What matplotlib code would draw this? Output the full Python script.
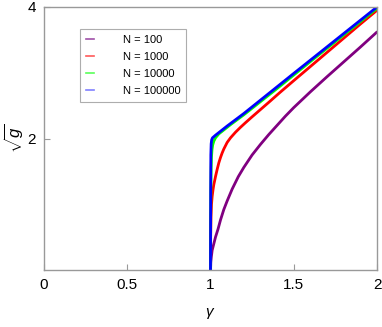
import matplotlib
matplotlib.use("Agg")
import matplotlib.pyplot as plt
from matplotlib.lines import Line2D

plt.rcParams['font.family'] = ['Liberation Sans', 'DejaVu Sans']
plt.rcParams['mathtext.fontset'] = 'custom'
plt.rcParams['mathtext.rm'] = 'Liberation Sans'
plt.rcParams['mathtext.it'] = 'Liberation Sans:italic'

labels = ["N = 100", "N = 1000", "N = 10000", "N = 100000"]
colors = ["#800080", "#ff0000", "#00ff00", "#0000ff"]
legend_colors = ["#a050a8", "#ff5a5a", "#5aff5a", "#8080ff"]

g100_x = [1.0, 1.002, 1.005, 1.01, 1.02, 1.03, 1.045, 1.06, 1.08, 1.1, 1.13, 1.167, 1.2,
          1.25, 1.3, 1.35, 1.4, 1.45, 1.5, 1.6, 1.7, 1.8, 1.9, 2.0]
g100_y = [0.0, 0.12, 0.2, 0.3, 0.4, 0.5, 0.62, 0.76, 0.92, 1.05, 1.23, 1.42, 1.56,
          1.75, 1.91, 2.06, 2.2, 2.34, 2.47, 2.71, 2.94, 3.165, 3.39, 3.62]

g1000_x = [1.0, 1.001, 1.003, 1.006, 1.01, 1.015, 1.02, 1.03, 1.04, 1.05, 1.06, 1.07, 1.08,
           1.09, 1.1, 1.12, 1.15, 1.18, 1.21, 1.25, 1.3, 1.35, 1.417, 1.5, 1.6, 1.7, 1.8, 1.9, 2.0]
g1000_y = [0.0, 0.5, 0.8, 1.0, 1.12, 1.22, 1.3, 1.42, 1.53, 1.63, 1.71, 1.78, 1.84,
           1.89, 1.94, 2.01, 2.095, 2.17, 2.24, 2.33, 2.44, 2.55, 2.7, 2.88, 3.095, 3.31, 3.525, 3.74, 3.95]

g10000_x = [1.0, 1.001, 1.002, 1.004, 1.006, 1.009, 1.013, 1.02, 1.03, 1.05, 1.08, 1.12,
            1.2, 1.3, 1.4, 1.6, 1.8, 2.0]
g10000_y = [0.0, 0.8, 1.2, 1.55, 1.72, 1.83, 1.9, 1.96, 2.01, 2.07, 2.13, 2.21,
            2.36, 2.56, 2.76, 3.17, 3.575, 3.98]

g100000_x = [1.0, 1.001, 1.002, 1.004, 1.007, 1.012, 1.03, 1.1, 1.2, 1.5, 2.0]
g100000_y = [0.0, 1.2, 1.75, 1.92, 1.98, 2.01, 2.05, 2.19, 2.38, 2.99, 4.0]

series_x = [g100_x, g1000_x, g10000_x, g100000_x]
series_y = [g100_y, g1000_y, g10000_y, g100000_y]

xticks = [0, 0.5, 1, 1.5, 2]
xticklabels = ["0", "0.5", "1", "1.5", "2"]
yticks = [2, 4]
yticklabels = ["2", "4"]

fig = plt.figure(figsize=(3.82, 3.27), dpi=100)
ax = fig.add_axes([44/382, 57/327, 333/382, 263/327])

for xs, ys, c in zip(series_x, series_y, colors):
    ax.plot(xs, ys, color=c, lw=2.0, solid_capstyle='round', solid_joinstyle='round')

ax.set_xlim(0, 2)
ax.set_ylim(0, 4)
ax.set_xticks(xticks)
ax.set_xticklabels(xticklabels)
ax.set_yticks(yticks)
ax.set_yticklabels(yticklabels)

gray = "#999999"
for s in ax.spines.values():
    s.set_color(gray)
    s.set_linewidth(1.0)
ax.tick_params(direction='in', length=4, width=0.8, color=gray, labelsize=11, pad=6)

ax.set_xlabel(r"$\gamma$", fontsize=11, labelpad=10)
ax.set_ylabel(r"$\sqrt{g}$", fontsize=12, labelpad=1)

handles = [Line2D([0], [0], color=c, lw=1.2) for c in legend_colors]
leg = ax.legend(handles, labels, loc='upper left', bbox_to_anchor=(0.108, 0.916),
                borderaxespad=0, fontsize=8, handlelength=0.7, handletextpad=2.6,
                labelspacing=0.62, borderpad=0.55, fancybox=False, frameon=True)
leg.get_frame().set_edgecolor(gray)
leg.get_frame().set_linewidth(0.8)

fig.savefig("out.png", dpi=100)
